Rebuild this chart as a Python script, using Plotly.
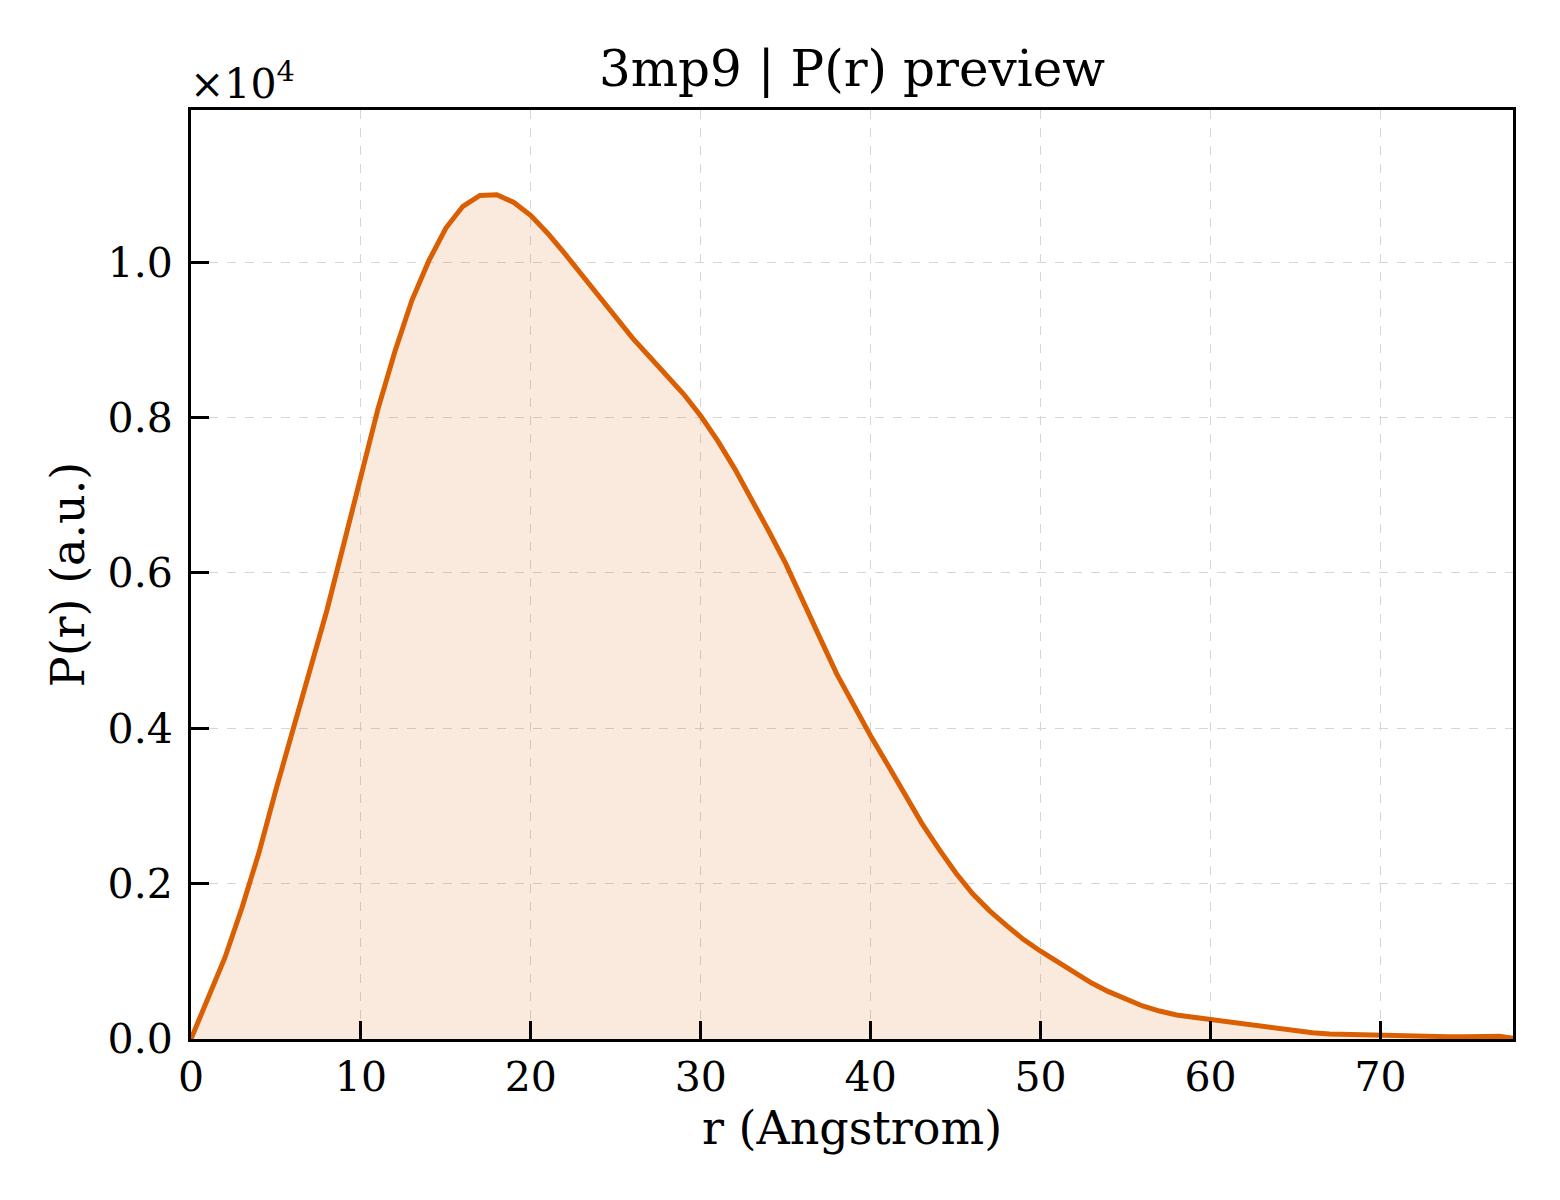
import plotly.graph_objects as go

# P(r) curve (r in Angstrom, P in a.u.)
r = [0, 1, 2, 3, 4, 5, 6, 7, 8, 9, 10, 11, 12, 13, 14, 15, 16, 17, 18, 19,
     20, 21, 22, 23, 24, 25, 26, 27, 28, 29, 30, 31, 32, 33, 34, 35, 36, 37, 38, 39,
     40, 41, 42, 43, 44, 45, 46, 47, 48, 49, 50, 51, 52, 53, 54, 55, 56, 57, 58, 59,
     60, 61, 62, 63, 64, 65, 66, 67, 68, 69, 70, 71, 72, 73, 74, 75, 76, 77, 77.8]
pr = [0, 510, 1050, 1690, 2400, 3210, 3980, 4750, 5520, 6380,
      7270, 8110, 8850, 9510, 10020, 10440, 10720, 10860, 10870, 10770,
      10600, 10370, 10110, 9840, 9570, 9290, 9020, 8780, 8550, 8300,
      8020, 7700, 7340, 6950, 6540, 6120, 5660, 5170, 4700, 4290,
      3900, 3530, 3150, 2780, 2450, 2140, 1870, 1650, 1460, 1280,
      1130, 990, 850, 720, 610, 510, 425, 360, 310, 280,
      250, 220, 190, 165, 130, 100, 80, 65, 58, 53,
      49, 45, 40, 34, 30, 28, 32, 35, 10]

y_ticks = [0, 2000, 4000, 6000, 8000, 10000]
y_tick_text = ["0.0", "0.2", "0.4", "0.6", "0.8", "1.0"]
x_ticks = [0, 10, 20, 30, 40, 50, 60, 70]

line_color = "#D95F02"
font_name = "DejaVu Serif"

fig = go.Figure()
fig.add_trace(go.Scatter(
    x=r, y=pr, mode="lines", fill="tozeroy",
    fillcolor="rgba(217,95,2,0.13)",
    line=dict(color=line_color, width=5),
    showlegend=False,
))

axis_common = dict(
    showline=True, linecolor="black", linewidth=3, mirror=True,
    ticks="inside", ticklen=18, tickwidth=2.5, tickcolor="black",
    showgrid=True, gridcolor="#d6d6d6", gridwidth=1.3, griddash="dash",
    zeroline=False, tickfont=dict(family=font_name, size=41, color="black"),
)

fig.update_xaxes(
    range=[0, 77.8], tickvals=x_ticks, ticklabelstandoff=0,
    title=dict(text="r (Angstrom)", font=dict(family=font_name, size=46, color="black"), standoff=12),
    **axis_common,
)
fig.update_yaxes(
    range=[0, 11960], tickvals=y_ticks, ticktext=y_tick_text, ticklabelstandoff=7,
    title=dict(text="P(r) (a.u.)", font=dict(family=font_name, size=46, color="black"), standoff=9),
    **axis_common,
)

fig.add_annotation(
    text="×10<sup>4</sup>", xref="paper", yref="paper", x=0.0, y=1.0,
    xanchor="left", yanchor="bottom", xshift=-3, yshift=0, showarrow=False,
    font=dict(family=font_name, size=41, color="black"),
)

# page body adds a small margin, so the figure is a bit smaller than the window
fig.update_layout(
    width=1544, height=1184,
    margin=dict(l=183, r=39, t=102, b=153),
    paper_bgcolor="white", plot_bgcolor="white",
    title=dict(text="3mp9 | P(r) preview", x=0.5, xref="paper",
               y=1 - 60 / 1184, yref="container", yanchor="middle",
               font=dict(family=font_name, size=50, color="black")),
)

fig.write_html("out.html")
